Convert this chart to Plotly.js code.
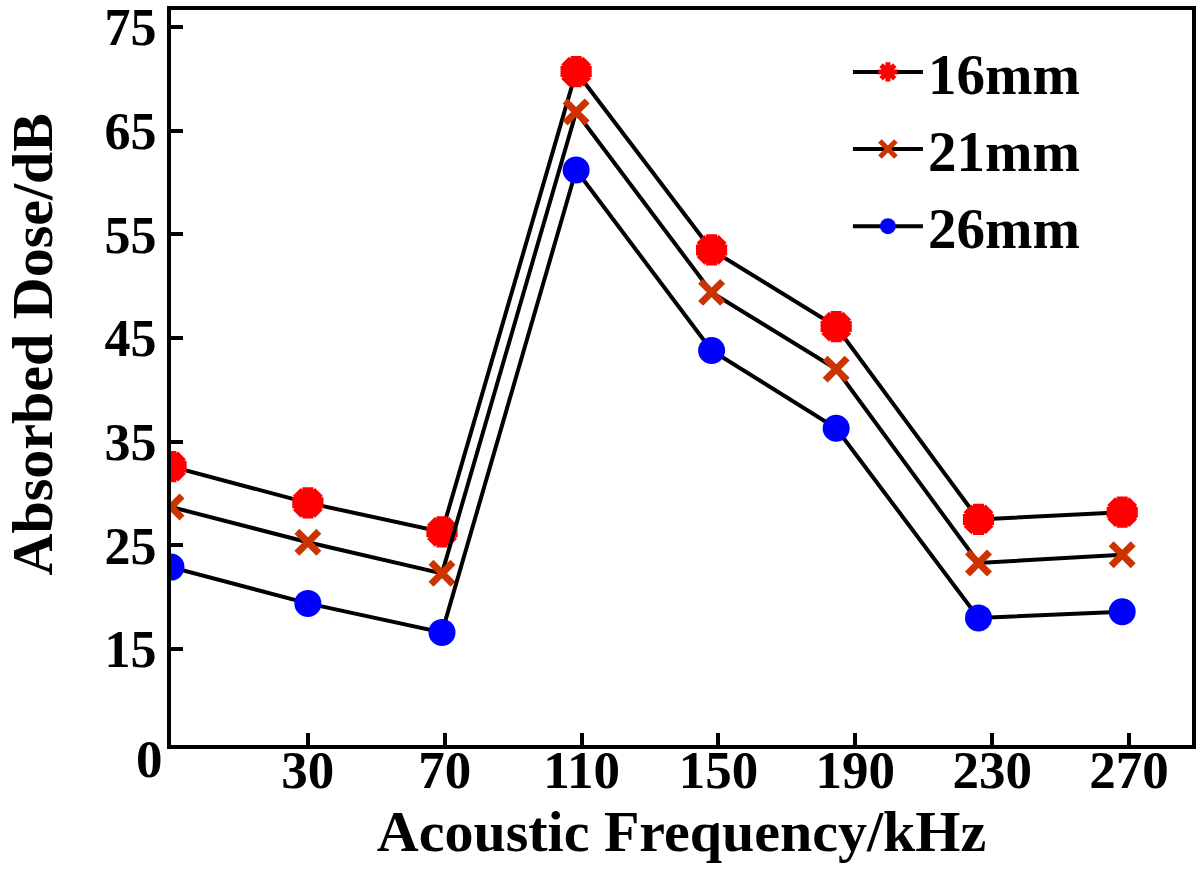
<!DOCTYPE html>
<html>
<head>
<meta charset="utf-8">
<script src="https://cdn.plot.ly/plotly-3.0.1.min.js"></script>
<style>
  html, body { margin: 0; padding: 0; background: #fff; }
  #chart { width: 1200px; height: 874px; }
</style>
</head>
<body>
<div id="chart"></div>
<script>
// frequency positions as plotted (evenly spaced slots) and tick labels
var xPos = [0, 1.0, 1.98, 2.96, 3.95, 4.86, 5.9, 6.95];
var xTickVals = [1, 2, 3, 4, 5, 6, 7];
var xTickText = ['30', '70', '110', '150', '190', '230', '270'];

var yTickVals = [15, 25, 35, 45, 55, 65, 75];
var yTickText = ['15', '25', '35', '45', '55', '65', '75'];

// absorbed dose (dB)
var dose16 = [32.6, 29.1, 26.3, 70.7, 53.5, 46.1, 27.5, 28.2];
var dose21 = [28.7, 25.3, 22.3, 66.8, 49.4, 42.0, 23.3, 24.1];
var dose26 = [22.9, 19.4, 16.6, 61.2, 43.8, 36.3, 18.0, 18.6];

var serif = 'Liberation Serif, Times New Roman, serif';

var trace1 = {
    x: xPos,
    y: dose16,
    name: '16mm',
    type: 'scatter',
    mode: 'lines+markers',
    line: { color: '#000000', width: 4 },
    marker: {
        symbol: 'asterisk-open',
        size: 26,
        color: '#ff0000',
        line: { color: '#ff0000', width: 11 }
    }
};

var trace2 = {
    x: xPos,
    y: dose21,
    name: '21mm',
    type: 'scatter',
    mode: 'lines+markers',
    line: { color: '#000000', width: 4 },
    marker: {
        symbol: 'x-thin-open',
        size: 22,
        color: '#cc3300',
        line: { color: '#cc3300', width: 7 }
    }
};

var trace3 = {
    x: xPos,
    y: dose26,
    name: '26mm',
    type: 'scatter',
    mode: 'lines+markers',
    line: { color: '#000000', width: 4 },
    marker: {
        symbol: 'circle',
        size: 27,
        color: '#0000ff'
    }
};

var data = [trace1, trace2, trace3];

var layout = {
    width: 1200,
    height: 874,
    paper_bgcolor: '#ffffff',
    plot_bgcolor: '#ffffff',
    font: { family: serif, size: 52, color: '#000000', weight: 'bold' },
    showlegend: true,
    legend: {
        x: 0.663,
        y: 0.975,
        xanchor: 'left',
        yanchor: 'top',
        bgcolor: 'rgba(0,0,0,0)',
        font: { family: serif, size: 57, weight: 'bold' },
        itemwidth: 70
    },
    xaxis: {
        range: [0, 7.46],
        tickmode: 'array',
        tickvals: xTickVals,
        ticktext: xTickText,
        ticks: 'inside',
        ticklen: 12,
        tickwidth: 4,
        tickcolor: '#000',
        showline: true,
        linewidth: 4,
        linecolor: '#000',
        mirror: true,
        showgrid: false,
        zeroline: false,
        ticklabelstandoff: -25,
        tickfont: { family: serif, size: 53, weight: 'bold' },
        title: {
            text: 'Acoustic Frequency/kHz',
            font: { family: serif, size: 58, weight: 'bold' },
            standoff: 0
        }
    },
    yaxis: {
        range: [5.74, 76.64],
        tickmode: 'array',
        tickvals: yTickVals,
        ticktext: yTickText,
        ticks: 'inside',
        ticklen: 12,
        tickwidth: 4,
        tickcolor: '#000',
        showline: true,
        linewidth: 4,
        linecolor: '#000',
        mirror: true,
        showgrid: false,
        zeroline: false,
        ticklabeloverflow: 'allow',
        tickfont: { family: serif, size: 52, weight: 'bold' }
    },
    annotations: [{
        x: 0,
        y: 0,
        xref: 'paper',
        yref: 'paper',
        text: '0',
        showarrow: false,
        xanchor: 'right',
        yanchor: 'top',
        xshift: -6,
        yshift: 17,
        font: { family: serif, size: 53, weight: 'bold' }
    }, {
        // y-axis title, drawn as an annotation so it can sit a little above centre
        x: 0,
        y: 0.545,
        xref: 'paper',
        yref: 'paper',
        text: 'Absorbed Dose/dB',
        textangle: -90,
        showarrow: false,
        xanchor: 'center',
        yanchor: 'middle',
        xshift: -139,
        font: { family: serif, size: 58, weight: 'bold' }
    }],
    margin: { l: 171, r: 8, t: 10, b: 129, pad: 0 }
};

Plotly.newPlot('chart', data, layout, { staticPlot: true });
</script>
</body>
</html>
